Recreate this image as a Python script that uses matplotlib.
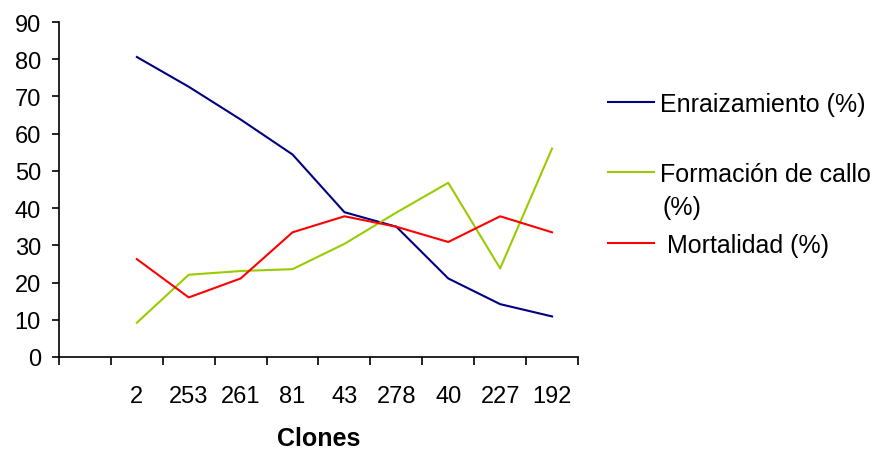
import matplotlib
matplotlib.use('Agg')
import matplotlib.pyplot as plt
from matplotlib.ticker import FixedLocator
import numpy as np

plt.rcParams['font.family'] = ['Liberation Sans', 'DejaVu Sans']

# categories (first slot is empty in the original chart)
clones = ['', '2', '253', '261', '81', '43', '278', '40', '227', '192']
enraizamiento = [80.6, 72.6, 63.8, 54.4, 38.9, 35.0, 21.1, 14.2, 10.9]
formacion_callo = [9.2, 22.1, 23.1, 23.6, 30.4, 38.8, 46.8, 23.8, 56.0]
mortalidad = [26.3, 16.0, 21.1, 33.5, 37.8, 35.0, 30.9, 37.8, 33.5]

series = [
    (enraizamiento, '#000080', 'Enraizamiento (%)'),
    (formacion_callo, '#99CC00', 'Formación de callo'),
    (mortalidad, '#FF0000', ' Mortalidad (%)'),
]

fig = plt.figure(figsize=(8.81, 4.52), dpi=100)
ax = fig.add_axes([59 / 881, 1 - 358 / 452, (578 - 59) / 881, (358 - 23) / 452])

x = np.arange(1, len(clones))
lines = []
for vals, col, lab in series:
    ln, = ax.plot(x, vals, color=col, lw=1.5, label=lab)
    lines.append(ln)

ax.set_xlim(-0.5, len(clones) - 0.5)
ax.set_ylim(0, 90)
ax.set_yticks(np.arange(0, 91, 10))

# boundary ticks without labels, labels centred in each category
ax.xaxis.set_major_locator(FixedLocator(np.arange(-0.5, len(clones), 1.0)))
ax.xaxis.set_major_formatter(plt.NullFormatter())
ax.xaxis.set_minor_locator(FixedLocator(np.arange(len(clones))))
ax.set_xticklabels(clones, minor=True)
ax.tick_params(axis='x', which='major', direction='out', length=6, width=1.2)
ax.tick_params(axis='x', which='minor', length=0, pad=20.5, labelsize=17)
ax.tick_params(axis='y', direction='out', length=5, width=1.2, pad=8, labelsize=17)

for s in ['top', 'right']:
    ax.spines[s].set_visible(False)
for s in ['left', 'bottom']:
    ax.spines[s].set_linewidth(1.2)

ax.set_xlabel('Clones', fontsize=18, fontweight='bold', labelpad=13.5)

# legend entries placed one by one (uneven spacing as in the original)
ypos = [1 - 105 / 452, 1 - 175 / 452, 1 - 246 / 452]
for ln, yy in zip(lines, ypos):
    fig.legend([ln], [ln.get_label()], loc='center left',
               bbox_to_anchor=(608 / 881, yy), bbox_transform=fig.transFigure,
               frameon=False, fontsize=18, borderpad=0, borderaxespad=0,
               handlelength=1.85, handletextpad=0.25)
fig.text(662 / 881, 1 - 208 / 452, '(%)', fontsize=18, va='center', ha='left')

fig.savefig('out.png', dpi=100)
